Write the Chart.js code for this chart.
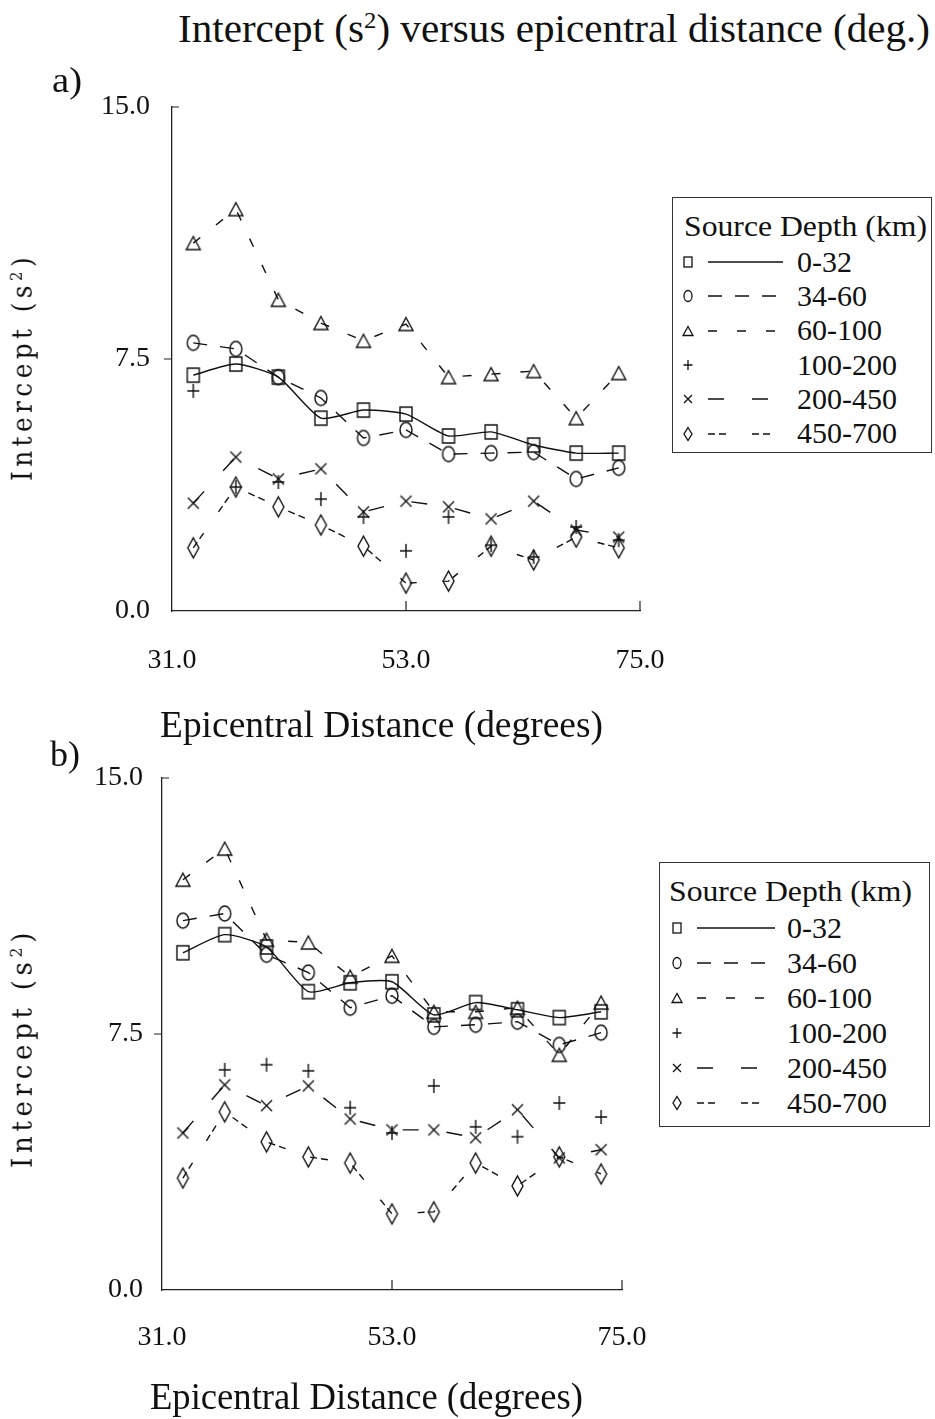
<!DOCTYPE html>
<html><head><meta charset="utf-8">
<script src="https://cdn.jsdelivr.net/npm/chart.js@4.4.1/dist/chart.umd.min.js"></script>
<style>
html,body{margin:0;padding:0;background:#fff;}
body{width:935px;height:1419px;position:relative;overflow:hidden;font-family:"Liberation Serif",serif;color:#111;}
.t{position:absolute;white-space:nowrap;line-height:1;transform-origin:0 50%;}
canvas{position:absolute;left:0;}
.legend{position:absolute;border:1.5px solid #333;background:#fff;box-sizing:border-box;}
sup{font-size:0.6em;line-height:0;vertical-align:0.6em;}
</style></head><body>
<canvas id="ca" width="935" height="630" style="top:60px"></canvas>
<canvas id="cb" width="935" height="640" style="top:740px"></canvas>
<script>
// ---------- data ----------
const distanceDeg = [33, 37, 41, 45, 49, 53, 57, 61, 65, 69, 73];
const depthLabels = ['0-32', '34-60', '60-100', '100-200', '200-450', '450-700'];
const xTickValues = [31, 53, 75];
const yTickValues = [0, 7.5, 15];

// panel a
const a_0_32    = [7.02, 7.35, 6.96, 5.74, 5.98, 5.86, 5.21, 5.33, 4.94, 4.70, 4.70];
const a_34_60   = [7.98, 7.80, 6.96, 6.34, 5.15, 5.39, 4.67, 4.70, 4.73, 3.93, 4.26];
const a_60_100  = [10.95, 11.96, 9.26, 8.57, 8.04, 8.54, 6.96, 7.05, 7.14, 5.74, 7.08];
const a_100_200 = [6.55, 3.69, 3.84, 3.33, 2.80, 1.79, 2.80, 1.96, 1.61, 2.50, 2.11];
const a_200_450 = [3.21, 4.58, 3.93, 4.23, 2.95, 3.27, 3.10, 2.74, 3.27, 2.41, 2.20];
const a_450_700 = [1.88, 3.69, 3.10, 2.56, 1.93, 0.83, 0.89, 1.93, 1.52, 2.20, 1.88];

// panel b
const b_0_32    = [9.88, 10.41, 10.05, 8.74, 9.00, 9.03, 8.06, 8.42, 8.21, 7.98, 8.15];
const b_34_60   = [10.82, 11.03, 9.82, 9.30, 8.27, 8.62, 7.71, 7.77, 7.86, 7.18, 7.54];
const b_60_100  = [12.02, 12.93, 10.26, 10.18, 9.18, 9.79, 8.15, 8.15, 8.27, 6.89, 8.42];
const b_100_200 = [null, 6.45, 6.60, 6.42, 5.34, 4.60, 5.98, 4.78, 4.49, 5.48, 5.07];
const b_200_450 = [4.60, 6.01, 5.40, 5.98, 5.01, 4.69, 4.69, 4.46, 5.28, 3.87, 4.11];
const b_450_700 = [3.28, 5.22, 4.34, 3.90, 3.72, 2.23, 2.29, 3.72, 3.05, 3.90, 3.40];

// ---------- styles ----------
const INK = '#111';
const seriesStyle = [
  {marker: 'square',   line: true,  dash: [],            tension: 0.2},
  {marker: 'circle',   line: true,  dash: [14, 13],      tension: 0},
  {marker: 'triangle', line: true,  dash: [9, 20],       tension: 0},
  {marker: 'plus',     line: false, dash: [],            tension: 0},
  {marker: 'x',        line: true,  dash: [16, 28],      tension: 0},
  {marker: 'diamond',  line: true,  dash: [7, 4, 7, 26], tension: 0}
];
const markerSize = {square:[12,14], circle:[12,15], triangle:[14,13], plus:[12,14], x:[11,11], diamond:[11,20]};

function markerCanvas(kind) {
  const [w, h] = markerSize[kind];
  const pad = 2;
  const c = document.createElement('canvas');
  c.width = w + 2 * pad; c.height = h + 2 * pad;
  const g = c.getContext('2d');
  g.strokeStyle = INK; g.lineWidth = 1.4;
  const cx = c.width / 2, cy = c.height / 2;
  g.beginPath();
  if (kind === 'square') g.rect(pad, pad, w, h);
  else if (kind === 'circle') g.ellipse(cx, cy, w / 2, h / 2, 0, 0, Math.PI * 2);
  else if (kind === 'triangle') { g.moveTo(cx, pad); g.lineTo(pad + w, pad + h); g.lineTo(pad, pad + h); g.closePath(); }
  else if (kind === 'plus') { g.moveTo(cx, pad); g.lineTo(cx, pad + h); g.moveTo(pad, cy); g.lineTo(pad + w, cy); }
  else if (kind === 'x') { g.moveTo(pad, pad); g.lineTo(pad + w, pad + h); g.moveTo(pad + w, pad); g.lineTo(pad, pad + h); }
  else if (kind === 'diamond') { g.moveTo(cx, pad); g.lineTo(pad + w, cy); g.lineTo(cx, pad + h); g.lineTo(pad, cy); g.closePath(); }
  g.stroke();
  return c;
}
const markers = {};
Object.keys(markerSize).forEach(k => markers[k] = markerCanvas(k));

function makeDatasets(seriesList) {
  return seriesList.map((vals, i) => {
    const st = seriesStyle[i];
    return {
      label: depthLabels[i],
      data: distanceDeg.map((d, j) => ({x: d, y: vals[j]})),
      showLine: st.line,
      borderColor: INK,
      borderWidth: 1.4,
      borderDash: st.dash,
      tension: st.tension,
      fill: false,
      pointStyle: markers[st.marker],
      pointRadius: 6,
      pointHoverRadius: 6,
      spanGaps: false
    };
  });
}

const axisTicks = {
  id: 'axisTicks',
  afterDatasetsDraw(chart) {
    const {ctx, chartArea: a, scales: {x, y}} = chart;
    ctx.save();
    ctx.strokeStyle = '#222'; ctx.lineWidth = 1.2; ctx.setLineDash([]);
    ctx.beginPath();
    const ym = y.getPixelForValue(yTickValues[1]);
    ctx.moveTo(a.left - 8, ym); ctx.lineTo(a.left, ym);
    const yt = y.getPixelForValue(yTickValues[2]);
    ctx.moveTo(a.left, yt); ctx.lineTo(a.left + 7, yt);
    [xTickValues[1], xTickValues[2]].forEach(v => {
      const px = x.getPixelForValue(v);
      ctx.moveTo(px, a.bottom); ctx.lineTo(px, a.bottom - 10);
    });
    ctx.stroke();
    ctx.restore();
  }
};

const tickFont = {family: '"Liberation Serif", serif', size: 28};

function makeChart(id, seriesList, L) {
  return new Chart(document.getElementById(id), {
    type: 'line',
    data: {datasets: makeDatasets(seriesList)},
    plugins: [axisTicks],
    options: {
      responsive: false, animation: false, devicePixelRatio: 1,
      layout: {padding: {top: L.top, left: 0, right: L.right, bottom: 0}},
      plugins: {legend: {display: false}, tooltip: {enabled: false}},
      scales: {
        x: {
          type: 'linear', min: xTickValues[0], max: xTickValues[2],
          afterBuildTicks: s => { s.ticks = xTickValues.map(v => ({value: v})); },
          ticks: {callback: v => Number(v).toFixed(1), font: tickFont, color: INK, padding: L.xPad, maxRotation: 0, autoSkip: false},
          grid: {display: true, drawOnChartArea: false, drawTicks: false},
          border: {display: true, color: '#222', width: 1.3},
          afterFit: s => { s.height = L.xH; }
        },
        y: {
          type: 'linear', min: yTickValues[0], max: yTickValues[2],
          afterBuildTicks: s => { s.ticks = yTickValues.map(v => ({value: v})); },
          ticks: {callback: v => Number(v).toFixed(1), font: tickFont, color: INK, padding: L.yPad, autoSkip: false},
          grid: {display: true, drawOnChartArea: false, drawTicks: false},
          border: {display: true, color: '#222', width: 1.3},
          afterFit: s => { s.width = L.yW; }
        }
      }
    }
  });
}

makeChart('ca', [a_0_32, a_34_60, a_60_100, a_100_200, a_200_450, a_450_700],
  {top: 47, right: 295, xH: 79, yW: 172, xPad: 33, yPad: 22});
makeChart('cb', [b_0_32, b_34_60, b_60_100, b_100_200, b_200_450, b_450_700],
  {top: 38, right: 313, xH: 90, yW: 162, xPad: 31, yPad: 19});

// ---------- text ----------
function place(html, o) {
  const d = document.createElement('div');
  d.className = 't';
  d.innerHTML = html;
  d.style.fontSize = o.size + 'px';
  d.style.fontFamily = o.family || '"Liberation Serif", serif';
  if (o.ls) d.style.letterSpacing = o.ls + 'px';
  document.body.appendChild(d);
  const w = d.getBoundingClientRect().width;
  const s = o.width ? o.width / w : 1;
  if (o.rotate) {
    d.style.left = (o.cx - w / 2) + 'px';
    d.style.top = (o.cy - o.size / 2) + 'px';
    d.style.transformOrigin = '50% 50%';
    d.style.transform = 'rotate(-90deg) scaleX(' + s + ')';
  } else {
    d.style.left = o.x + 'px';
    d.style.top = (o.cy - o.size * 0.51) + 'px';
    d.style.transform = 'scaleX(' + s + ')';
  }
  return d;
}

place('Intercept (s<sup>2</sup>) versus epicentral distance (deg.)', {x: 178, cy: 29, size: 40, width: 752});
place('a)', {x: 52, cy: 80, size: 36, width: 30});
place('b)', {x: 50, cy: 754, size: 36, width: 30});
place('Epicentral Distance (degrees)', {x: 160, cy: 724, size: 38, width: 443});
place('Epicentral Distance (degrees)', {x: 150, cy: 1396, size: 38, width: 433});
place('Intercept (s<sup>2</sup>)', {rotate: true, cx: 23, cy: 367, size: 28, width: 228, ls: 5, family: '"DejaVu Serif", serif'});
place('Intercept (s<sup>2</sup>)', {rotate: true, cx: 23, cy: 1048, size: 28, width: 240, ls: 5, family: '"DejaVu Serif", serif'});

// ---------- legends ----------
const legendSize = {square:[8,10], circle:[8,11], triangle:[10,9], plus:[9,10], x:[8,8], diamond:[8,13]};
function legendSVG(kind, dash, showLine, mx, x1, x2) {
  const [w, h] = legendSize[kind];
  const cy = 12;
  let shape = '';
  if (kind === 'square') shape = `<rect x="${mx - w/2}" y="${cy - h/2}" width="${w}" height="${h}"/>`;
  else if (kind === 'circle') shape = `<ellipse cx="${mx}" cy="${cy}" rx="${w/2}" ry="${h/2}"/>`;
  else if (kind === 'triangle') shape = `<polygon points="${mx},${cy - h/2} ${mx + w/2},${cy + h/2} ${mx - w/2},${cy + h/2}"/>`;
  else if (kind === 'plus') shape = `<path d="M${mx} ${cy - h/2}V${cy + h/2}M${mx - w/2} ${cy}H${mx + w/2}"/>`;
  else if (kind === 'x') shape = `<path d="M${mx - w/2} ${cy - h/2}L${mx + w/2} ${cy + h/2}M${mx + w/2} ${cy - h/2}L${mx - w/2} ${cy + h/2}"/>`;
  else if (kind === 'diamond') shape = `<polygon points="${mx},${cy - h/2} ${mx + w/2},${cy} ${mx},${cy + h/2} ${mx - w/2},${cy}"/>`;
  const line = showLine ? `<line x1="${x1}" y1="${cy}" x2="${x2}" y2="${cy}" stroke-dasharray="${dash.length ? dash.join(' ') : 'none'}"/>` : '';
  return `<svg width="${x2 + 4}" height="24" style="overflow:visible"><g fill="none" stroke="${INK}" stroke-width="1.3">${shape}${line}</g></svg>`;
}

function buildLegend(L) {
  const box = document.createElement('div');
  box.className = 'legend';
  box.style.left = L.left + 'px'; box.style.top = L.top + 'px';
  box.style.width = L.w + 'px'; box.style.height = L.h + 'px';
  document.body.appendChild(box);
  place('Source Depth (km)', {x: L.titleX, cy: L.titleCy, size: 30, width: L.titleW});
  depthLabels.forEach((lab, i) => {
    const cy = L.row0 + i * L.rowStep;
    const st = seriesStyle[i];
    const s = document.createElement('div');
    s.style.position = 'absolute';
    s.style.left = L.svgLeft + 'px';
    s.style.top = (cy - 12) + 'px';
    s.innerHTML = legendSVG(st.marker, st.dash, st.line, L.mx, L.lx1, L.lx2);
    document.body.appendChild(s);
    place(lab, {x: L.labelX, cy: cy, size: 30});
  });
}

buildLegend({left: 672, top: 197, w: 260, h: 256, titleX: 684, titleCy: 226, titleW: 243,
  row0: 262, rowStep: 34.3, svgLeft: 675, mx: 13, lx1: 33, lx2: 108, labelX: 797});
buildLegend({left: 659, top: 862, w: 271, h: 265, titleX: 669, titleCy: 891, titleW: 243,
  row0: 928, rowStep: 35, svgLeft: 653, mx: 24, lx1: 44, lx2: 122, labelX: 787});
</script>
</body></html>
